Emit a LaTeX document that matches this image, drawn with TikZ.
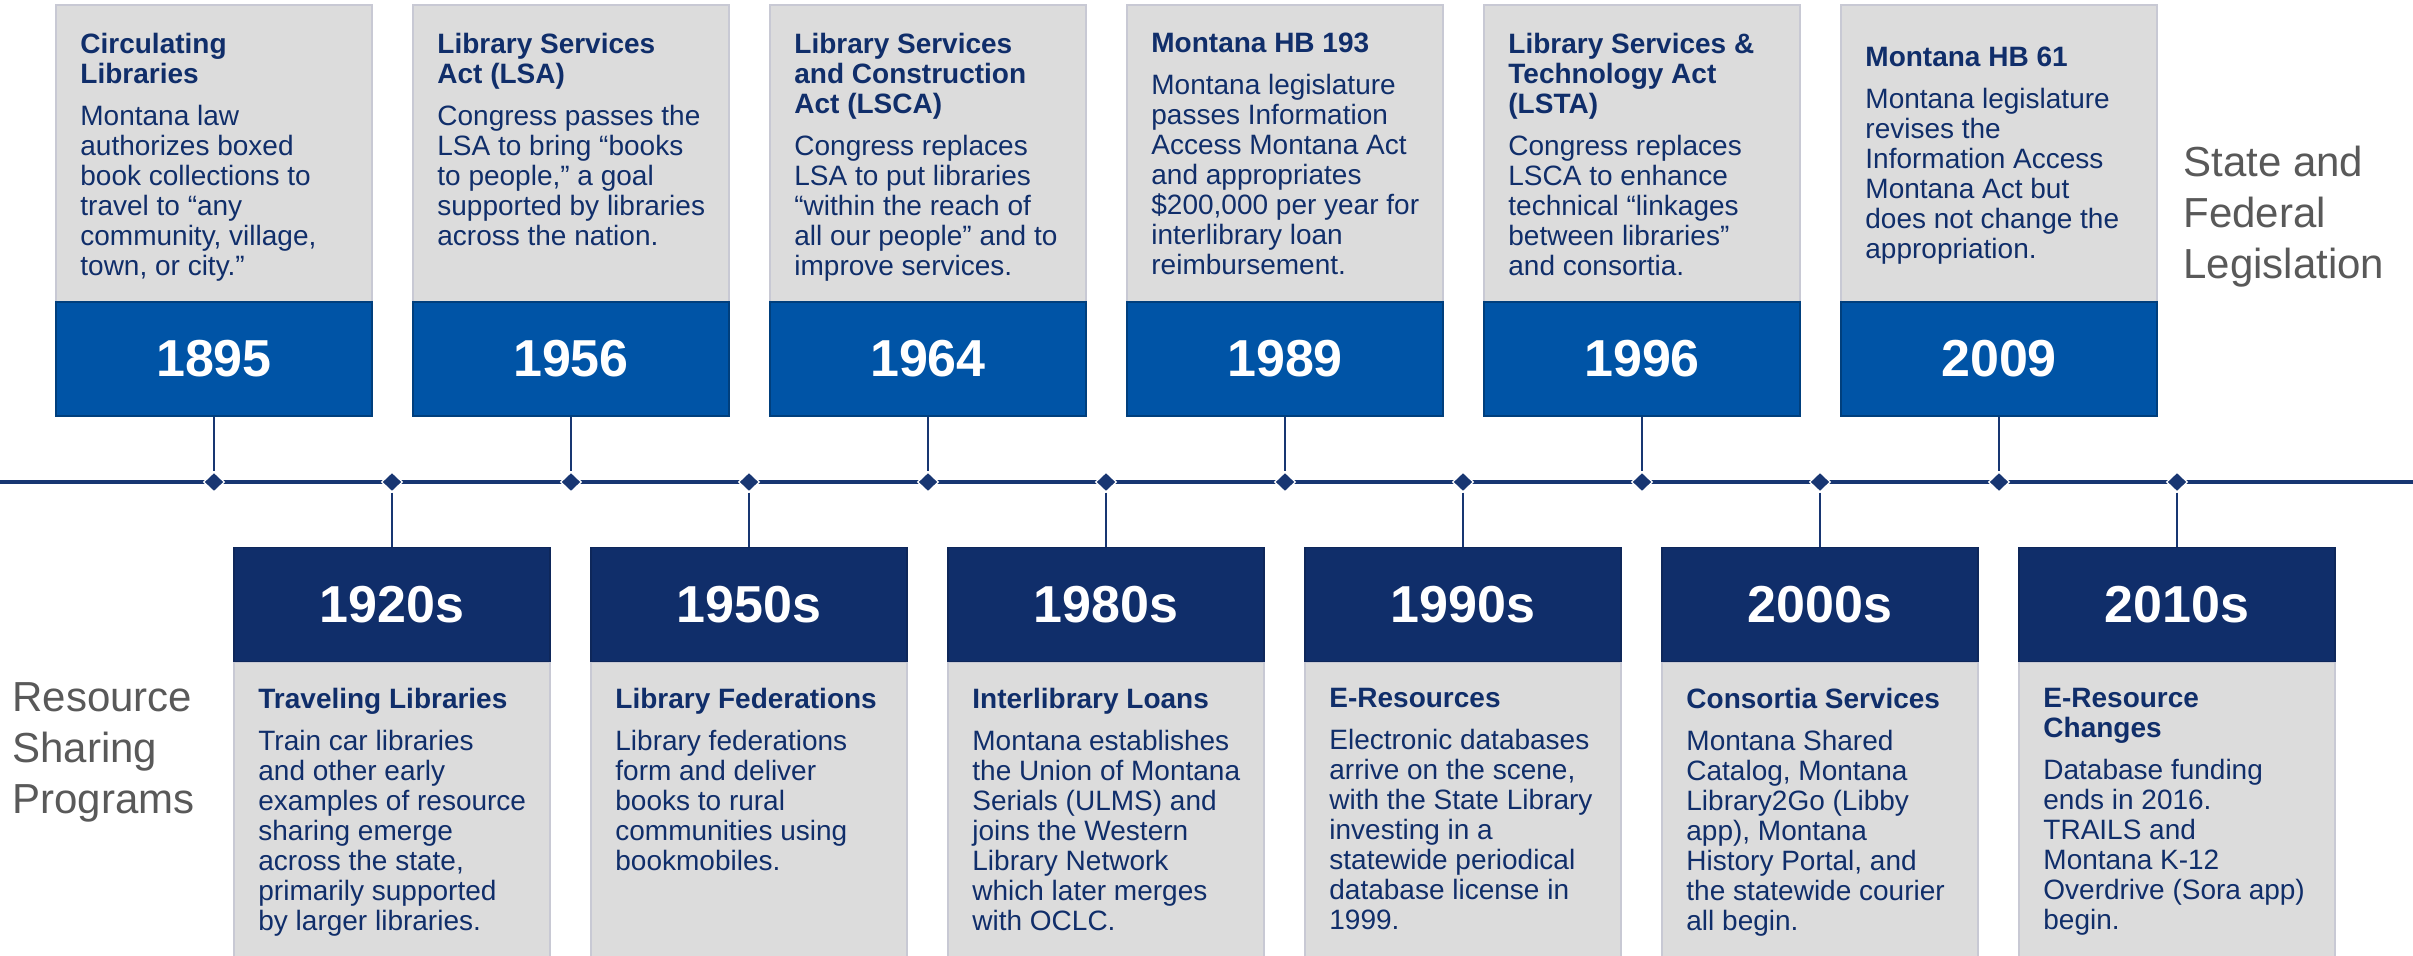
\documentclass[tikz,border=0pt]{standalone}
\usepackage{fontspec}
\setmainfont{Liberation Sans}
\usetikzlibrary{shapes.geometric}
\definecolor{legisBlue}{RGB}{0,84,166}
\definecolor{programNavy}{RGB}{16,46,106}
\definecolor{cardGray}{RGB}{220,220,220}
\definecolor{cardEdge}{RGB}{200,201,212}
\definecolor{labelGray}{RGB}{89,89,89}
\definecolor{spineColor}{RGB}{24,54,114}
\tikzstyle{pixelGrid} = [x = 0.5pt, y = -0.5pt]
\tikzstyle{cardStyle} = [fill=cardGray, draw=cardEdge, line width = 1pt]
\tikzstyle{yearStyle} = [rectangle, text=white, font=\fontsize{26}{30}\selectfont\bfseries, minimum width = 158pt, minimum height = 57pt, inner sep = 0pt, line width = .6pt]
\tikzstyle{legisYear} = [yearStyle, fill=legisBlue, draw=legisBlue!75!black]
\tikzstyle{programYear} = [yearStyle, fill=programNavy, draw=programNavy!85!black]
\tikzstyle{cardText} = [text=programNavy, align=left, inner sep = 0pt, font=\fontsize{14}{15}\selectfont]
\tikzstyle{timeDot} = [diamond, fill=spineColor, draw=white, line width = .6pt, minimum width = 10.5pt, minimum height = 10pt, inner sep = 0pt]
\tikzstyle{spine} = [draw=spineColor, line width = 1.75pt]
\tikzstyle{stem} = [draw=spineColor, line width = .75pt]
\tikzstyle{sideLabel} = [text=labelGray, align=left, inner sep = 0pt, font=\fontsize{21}{25.5}\selectfont]
% legislation above the line, programs below it
\newcommand{\legisEvent}[5]{
  \filldraw [cardStyle] (#1 - 158, 5) rectangle (#1 + 158, 302);
  \node [legisYear] (year#2) at (#1, 359) {#2};
  \node [cardText, anchor = north west] (card#2) at (#1 - 134, #3) {#4\\[6pt]#5};
  \node [timeDot] (dot#2) at (#1, 482) {};
  \draw [stem] (year#2) -- (dot#2);
}
\newcommand{\programEvent}[4]{
  \filldraw [cardStyle] (#1 - 158, 662) rectangle (#1 + 158, 970);
  \node [programYear] (year#2) at (#1, 604.5) {#2};
  \node [cardText, anchor = north west] (card#2) at (#1 - 134, 688) {#3\\[6pt]#4};
  \node [timeDot] (dot#2) at (#1, 482) {};
  \draw [stem] (dot#2) -- (year#2);
}
\begin{document}
\begin{tikzpicture}[pixelGrid]
  \useasboundingbox (0, 0) rectangle (2413, 955);
  \clip (0, 0) rectangle (2413, 955);
  \coordinate (spineStart) at (0, 482);
  \coordinate (spineEnd) at (2413, 482);
  \draw [spine] (spineStart) -- (spineEnd);

  \legisEvent{214}{1895}{33}{\textbf{Circulating}\\\textbf{Libraries}}
    {Montana law\\authorizes boxed\\book collections to\\travel to “any\\community, village,\\town, or city.”}
  \legisEvent{571}{1956}{33}{\textbf{Library Services}\\\textbf{Act (LSA)}}
    {Congress passes the\\LSA to bring “books\\to people,” a goal\\supported by libraries\\across the nation.}
  \legisEvent{928}{1964}{33}{\textbf{Library Services}\\\textbf{and Construction}\\\textbf{Act (LSCA)}}
    {Congress replaces\\LSA to put libraries\\“within the reach of\\all our people” and to\\improve services.}
  \legisEvent{1285}{1989}{33}{\textbf{Montana HB 193}}
    {Montana legislature\\passes Information\\Access Montana Act\\and appropriates\\\$200,000 per year for\\interlibrary loan\\reimbursement.}
  \legisEvent{1642}{1996}{33}{\textbf{Library Services \&}\\\textbf{Technology Act}\\\textbf{(LSTA)}}
    {Congress replaces\\LSCA to enhance\\technical “linkages\\between libraries”\\and consortia.}
  \legisEvent{1999}{2009}{47}{\textbf{Montana HB 61}}
    {Montana legislature\\revises the\\Information Access\\Montana Act but\\does not change the\\appropriation.}

  \programEvent{392}{1920s}{\textbf{Traveling Libraries}}
    {Train car libraries\\and other early\\examples of resource\\sharing emerge\\across the state,\\primarily supported\\by larger libraries.}
  \programEvent{749}{1950s}{\textbf{Library Federations}}
    {Library federations\\form and deliver\\books to rural\\communities using\\bookmobiles.}
  \programEvent{1106}{1980s}{\textbf{Interlibrary Loans}}
    {Montana establishes\\the Union of Montana\\Serials (ULMS) and\\joins the Western\\Library Network\\which later merges\\with OCLC.}
  \programEvent{1463}{1990s}{\textbf{E-Resources}}
    {Electronic databases\\arrive on the scene,\\with the State Library\\investing in a\\statewide periodical\\database license in\\1999.}
  \programEvent{1820}{2000s}{\textbf{Consortia Services}}
    {Montana Shared\\Catalog, Montana\\Library2Go (Libby\\app), Montana\\History Portal, and\\the statewide courier\\all begin.}
  \programEvent{2177}{2010s}{\textbf{E-Resource}\\\textbf{Changes}}
    {Database funding\\ends in 2016.\\TRAILS and\\Montana K-12\\Overdrive (Sora app)\\begin.}

  \node [sideLabel, anchor = north west] (stateLabel) at (2183, 146) {State and\\Federal\\Legislation};
  \node [sideLabel, anchor = north west] (sharingLabel) at (12, 682) {Resource\\Sharing\\Programs};
\end{tikzpicture}
\end{document}
